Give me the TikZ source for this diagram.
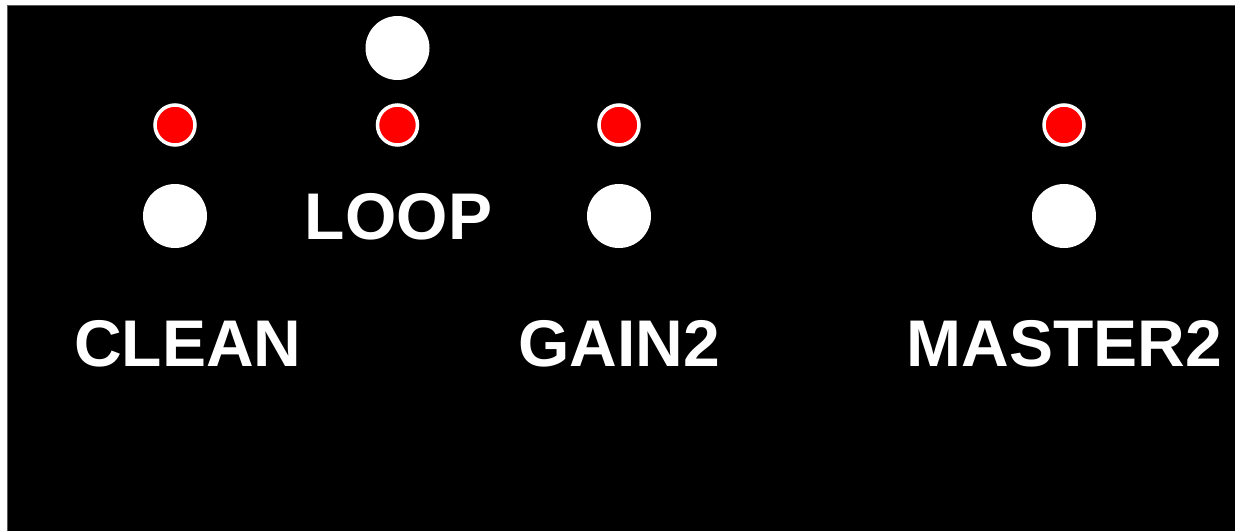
\documentclass[tikz,border=0pt]{standalone}
\usepackage{fontspec}
\setmainfont{Liberation Sans}
\begin{document}
\begin{tikzpicture}[x=1pt,y=-1pt,
  led/.style={circle,fill=red,draw=white,line width=3.5pt,minimum size=40pt,inner sep=0pt},
  btn/.style={circle,fill=white,minimum size=64pt,inner sep=0pt},
  lbl/.style={text=white,font=\bfseries\fontsize{66}{66}\selectfont,anchor=base,inner sep=0pt}]
\useasboundingbox (0,0) rectangle (1235,531);
\fill[white] (0,0) rectangle (1235,531);
\fill[black] (7,5) rectangle (1235,531);
\draw[gray!70!black,line width=1pt] (7.5,531) -- (7.5,5.5) -- (1235,5.5);
\node[led] (led1) at (175,125) {};
\node[led] (led2) at (397.5,125) {};
\node[led] (led3) at (619,125) {};
\node[led] (led4) at (1064,125) {};
\node[btn] (b1) at (175,216) {};
\node[btn] (b2) at (397.5,48) {};
\node[btn] (b3) at (619,216) {};
\node[btn] (b4) at (1064,216) {};
\node[lbl] (clean) at (188,366) {CLEAN};
\node[lbl] (loop) at (398.5,239) {LOOP};
\node[lbl] (gain) at (619,366) {GAIN2};
\node[lbl] (master) at (1064.5,366) {MASTER2};
\end{tikzpicture}
\end{document}
